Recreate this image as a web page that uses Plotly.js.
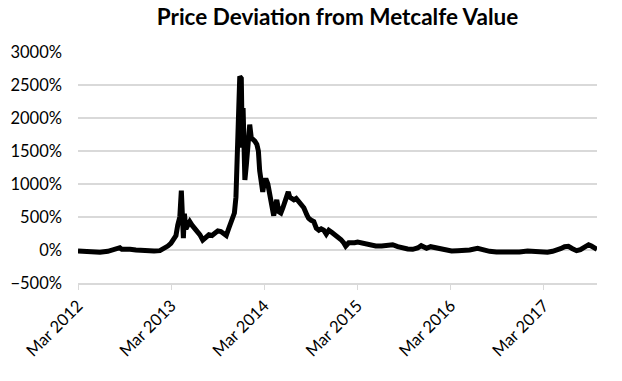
<!DOCTYPE html>
<html>
<head>
<meta charset="utf-8">
<script src="https://cdn.plot.ly/plotly-3.0.1.min.js"></script>
<style>
  html, body { margin: 0; padding: 0; background: #fff; }
  #chart { width: 622px; height: 381px; }
</style>
</head>
<body>
<div id="chart"></div>
<script>
// Dates of the observations
const dates = [
  "2012-03-01","2012-03-28","2012-04-25","2012-05-26","2012-06-26","2012-07-20","2012-08-05","2012-08-12",
  "2012-08-20","2012-09-05","2012-09-21","2012-10-14","2012-11-07","2012-11-30","2012-12-24","2013-01-16",
  "2013-02-01","2013-02-16","2013-02-28","2013-03-12","2013-03-20","2013-03-27","2013-04-04","2013-04-10",
  "2013-04-14","2013-04-18","2013-04-22","2013-04-28","2013-05-06","2013-05-13","2013-05-21","2013-05-29",
  "2013-06-10","2013-06-22","2013-07-03","2013-07-15","2013-07-27","2013-08-08","2013-08-19","2013-08-31",
  "2013-09-12","2013-09-24","2013-10-03","2013-10-13","2013-10-21","2013-10-29","2013-11-04","2013-11-10",
  "2013-11-13","2013-11-17","2013-11-21","2013-11-25","2013-12-01","2013-12-05","2013-12-08","2013-12-12",
  "2013-12-15","2013-12-21","2013-12-25","2013-12-31","2014-01-03","2014-01-09","2014-01-15","2014-01-23",
  "2014-01-31","2014-02-06","2014-02-11","2014-02-17","2014-02-23","2014-03-01","2014-03-07","2014-03-15",
  "2014-03-23","2014-03-30","2014-04-07","2014-04-13","2014-04-19","2014-04-27","2014-05-05","2014-05-13",
  "2014-05-20","2014-05-28","2014-06-03","2014-06-09","2014-06-17","2014-06-25","2014-07-04","2014-07-14",
  "2014-07-24","2014-08-03","2014-08-15","2014-08-22","2014-09-01","2014-09-11","2014-09-21","2014-10-01",
  "2014-10-10","2014-10-20","2014-10-30","2014-11-09","2014-11-20","2014-12-02","2014-12-14","2014-12-26",
  "2015-01-06","2015-01-14","2015-01-26","2015-02-07","2015-02-18","2015-03-02","2015-03-14","2015-03-30",
  "2015-04-18","2015-05-12","2015-06-04","2015-06-28","2015-07-17","2015-08-06","2015-08-25","2015-09-14",
  "2015-10-04","2015-10-23","2015-11-06","2015-11-16","2015-11-27","2015-12-13","2015-12-29","2016-01-17",
  "2016-02-10","2016-03-04","2016-03-28","2016-04-20","2016-05-14","2016-06-14","2016-07-08","2016-07-31",
  "2016-08-27","2016-09-28","2016-10-25","2016-11-25","2016-12-27","2017-01-23","2017-02-19","2017-03-15",
  "2017-04-04","2017-04-19","2017-05-05","2017-05-21","2017-06-05","2017-06-21","2017-07-07","2017-07-22",
  "2017-08-07","2017-08-23","2017-09-03","2017-09-15","2017-09-25"
];

// Price deviation from Metcalfe value, in percent
const deviation = [
  -15,-20,-30,-35,-20,0,20,35,
  10,15,10,0,-10,-5,-15,-10,
  20,60,100,160,220,380,500,900,
  250,180,550,320,380,430,380,340,
  310,230,150,200,230,220,260,290,
  280,250,220,330,420,480,560,800,
  1100,1650,2200,2630,2600,1550,2150,1500,
  1060,1300,1550,1800,1900,1700,1680,1650,
  1600,1500,1200,1050,880,1030,1080,1000,
  860,700,520,650,760,580,560,640,
  720,830,880,800,770,760,780,730,
  700,640,530,480,450,430,330,300,
  320,300,240,300,270,240,200,160,
  110,60,110,100,110,120,110,80,
  65,60,60,70,80,50,25,15,
  10,30,65,40,25,50,35,10,
  5,-15,-10,-10,0,25,-5,-20,
  -30,-35,-35,-30,-15,-25,-30,-35,
  -20,-5,20,50,55,20,-10,5,
  45,80,60,30,10
];

const xRange = ["2012-03-01", "2017-09-25"];
const yRange = [-500, 3000];
const chartTitle = "Price Deviation from Metcalfe Value";

const FONT = "Lato, 'Open Sans', 'Noto Sans', sans-serif";

Plotly.newPlot("chart", [{
  type: "scatter",
  mode: "lines",
  x: dates,
  y: deviation,
  line: { color: "#000000", width: 5 },
  hoverinfo: "skip"
}], {
  width: 622,
  height: 381,
  margin: { l: 78, r: 25, t: 52, b: 98 },
  paper_bgcolor: "#ffffff",
  plot_bgcolor: "#ffffff",
  showlegend: false,
  font: { family: FONT, color: "#000000", size: 16 },
  title: {
    text: "<b>" + chartTitle + "</b>",
    font: { family: FONT, size: 22.5, color: "#000000" },
    x: 0.5, xanchor: "center", xref: "paper",
    y: 0.955, yanchor: "middle", yref: "container"
  },
  xaxis: {
    type: "date",
    range: xRange,
    autorange: false,
    tick0: "2012-03-01",
    dtick: "M12",
    tickformat: "%b %Y",
    tickangle: -45,
    ticks: "outside",
    ticklen: 5,
    tickcolor: "#d9d9d9",
    tickwidth: 1,
    showline: true,
    linecolor: "#d9d9d9",
    linewidth: 1.5,
    showgrid: false,
    zeroline: false,
    tickfont: { family: FONT, size: 16.5, color: "#000000" },
    automargin: false
  },
  yaxis: {
    range: yRange,
    autorange: false,
    dtick: 500,
    tick0: 0,
    ticksuffix: "%",
    showgrid: true,
    gridcolor: "#d9d9d9",
    gridwidth: 1.2,
    zeroline: false,
    showline: false,
    ticks: "",
    ticklabelstandoff: 15,
    tickfont: { family: FONT, size: 16.5, color: "#000000" },
    automargin: false
  }
}, { staticPlot: true, displayModeBar: false });
</script>
</body>
</html>
